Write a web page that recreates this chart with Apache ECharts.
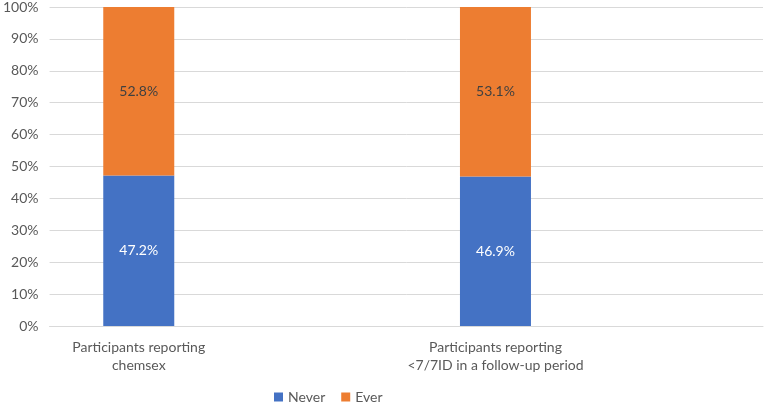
<!DOCTYPE html>
<html><head><meta charset="utf-8">
<script src="https://cdn.jsdelivr.net/npm/echarts@6/dist/echarts.min.js"></script>
<style>html,body{margin:0;padding:0;background:#fff}#c{width:767px;height:403px}</style>
</head><body><div id="c"></div>
<script>
const categories = ['Participants reporting\nchemsex', '', 'Participants reporting\n<7/7ID in a follow-up period', ''];
const neverValues = [47.2, null, 46.9, null];
const everValues = [52.8, null, 53.1, null];
const yTicks = [0, 10, 20, 30, 40, 50, 60, 70, 80, 90, 100];

const FONT = 'Lato';
const chart = echarts.init(document.getElementById('c'));
chart.setOption({
  animation: false,
  textStyle: { fontFamily: FONT },
  grid: { left: 44, right: 4, top: 6, bottom: 77, containLabel: false },
  legend: {
    top: 390, left: 274, padding: 0, itemWidth: 9, itemHeight: 9, itemGap: 16,
    icon: 'rect',
    textStyle: { color: '#595959', fontSize: 14, fontFamily: FONT },
    data: ['Never', 'Ever']
  },
  xAxis: {
    type: 'category', data: categories,
    axisLine: { show: true, lineStyle: { color: '#d9d9d9', width: 1 } },
    axisTick: { show: false },
    axisLabel: { color: '#595959', fontSize: 14, lineHeight: 18, margin: 12, interval: 0, fontFamily: FONT }
  },
  yAxis: {
    type: 'value', min: 0, max: 100, interval: 10,
    axisLabel: { formatter: v => yTicks.includes(v) ? v + '%' : '', color: '#595959', fontSize: 14, margin: 11, fontFamily: FONT },
    splitLine: { lineStyle: { color: '#d9d9d9', width: 1 } },
    axisLine: { show: false }, axisTick: { show: false }
  },
  series: [
    { name: 'Never', type: 'bar', stack: 'a', data: neverValues, barWidth: 71,
      itemStyle: { color: '#4472C4' },
      label: { show: true, position: 'inside', color: '#ffffff', fontSize: 14, formatter: p => p.value.toFixed(1) + '%', fontFamily: FONT } },
    { name: 'Ever', type: 'bar', stack: 'a', data: everValues, barWidth: 71,
      itemStyle: { color: '#ED7D31' },
      label: { show: true, position: 'inside', color: '#404040', fontSize: 14, formatter: p => p.value.toFixed(1) + '%', fontFamily: FONT } }
  ]
});
</script></body></html>
